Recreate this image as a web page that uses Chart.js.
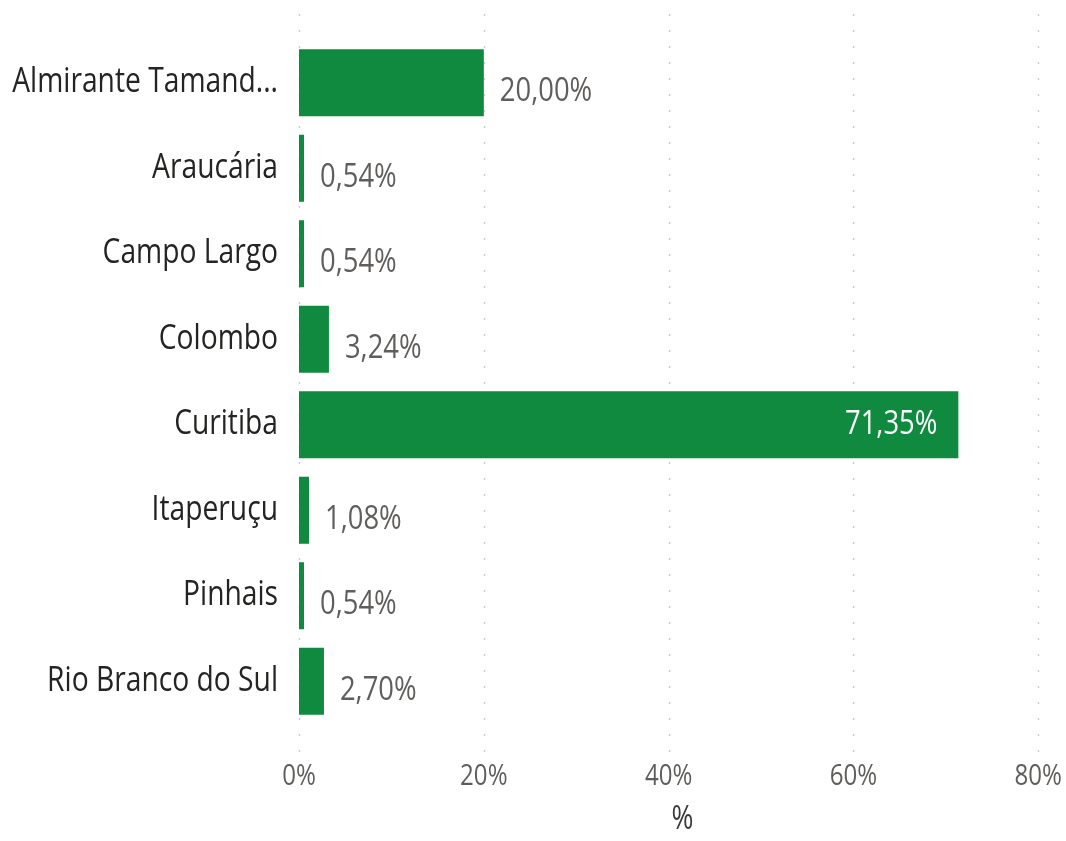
<!DOCTYPE html>
<html>
<head>
<meta charset="utf-8">
<script src="https://cdn.jsdelivr.net/npm/chart.js@4/dist/chart.umd.min.js"></script>
<style>
  html, body { margin: 0; padding: 0; background: #ffffff; }
  #wrap { width: 1066px; height: 841px; }
</style>
</head>
<body>
<div id="wrap"><canvas id="barChart" width="1066" height="841"></canvas></div>
<script>
const municipios = [
    'Almirante Tamand...',
    'Araucária',
    'Campo Largo',
    'Colombo',
    'Curitiba',
    'Itaperuçu',
    'Pinhais',
    'Rio Branco do Sul'
];
const percentuais = [20.00, 0.54, 0.54, 3.24, 71.35, 1.08, 0.54, 2.70];
const xTicks = [0, 20, 40, 60, 80];

const FONT = '"Segoe UI", "Open Sans", "Noto Sans", sans-serif';
const barColor = '#0f8a3e';
// the original text is a narrow rendering, squeeze glyphs horizontally
const SQUEEZE = 0.83;

function formatPct(v) {
    return v.toFixed(2).replace('.', ',') + '%';
}

function drawText(ctx, text, x, y, align) {
    ctx.save();
    ctx.translate(x, y);
    ctx.scale(SQUEEZE, 1);
    ctx.textAlign = align;
    ctx.fillText(text, 0, 0);
    ctx.restore();
}

// dotted vertical gridlines, running a bit past the plot area like the original
const dottedGrid = {
    id: 'dottedGrid',
    beforeDatasetsDraw(chart) {
        const ctx = chart.ctx;
        const xScale = chart.scales.x;
        ctx.save();
        ctx.strokeStyle = '#cfcdcb';
        ctx.lineWidth = 1.5;
        ctx.setLineDash([2, 14]);
        xScale.ticks.forEach(t => {
            const x = Math.round(xScale.getPixelForValue(t.value)) + 0.5;
            ctx.beginPath();
            ctx.moveTo(x, chart.chartArea.top - 26);
            ctx.lineTo(x, chart.chartArea.bottom + 28);
            ctx.stroke();
        });
        ctx.restore();
    }
};

// axis tick labels and axis title, placed from the scales' own positions
const axisLabels = {
    id: 'axisLabels',
    afterDraw(chart) {
        const ctx = chart.ctx;
        const xScale = chart.scales.x;
        const yScale = chart.scales.y;
        ctx.save();
        ctx.textBaseline = 'middle';

        ctx.font = '34px ' + FONT;
        ctx.fillStyle = '#252423';
        municipios.forEach((name, i) => {
            drawText(ctx, name, chart.chartArea.left - 21, yScale.getPixelForTick(i), 'right');
        });

        ctx.font = '29px ' + FONT;
        ctx.fillStyle = '#605e5c';
        xTicks.forEach(v => {
            drawText(ctx, v + '%', xScale.getPixelForValue(v), chart.chartArea.bottom + 53, 'center');
        });

        ctx.font = '32px ' + FONT;
        ctx.fillStyle = '#3b3a39';
        drawText(ctx, '%', (xScale.left + xScale.right) / 2, chart.chartArea.bottom + 96, 'center');
        ctx.restore();
    }
};

// value labels: outside end in gray, inside end in white for the long bar
const valueLabels = {
    id: 'valueLabels',
    afterDatasetsDraw(chart) {
        const ctx = chart.ctx;
        const meta = chart.getDatasetMeta(0);
        ctx.save();
        ctx.font = '33px ' + FONT;
        ctx.textBaseline = 'middle';
        meta.data.forEach((bar, i) => {
            const v = percentuais[i];
            const text = formatPct(v);
            if (v > 50) {
                ctx.fillStyle = '#ffffff';
                drawText(ctx, text, bar.x - 21, bar.y, 'right');
            } else {
                ctx.fillStyle = '#605e5c';
                drawText(ctx, text, bar.x + 16, bar.y + 9, 'left');
            }
        });
        ctx.restore();
    }
};

new Chart(document.getElementById('barChart').getContext('2d'), {
    type: 'bar',
    data: {
        labels: municipios,
        datasets: [{
            data: percentuais,
            backgroundColor: barColor,
            borderWidth: 0,
            categoryPercentage: 1,
            barPercentage: 0.784
        }]
    },
    options: {
        indexAxis: 'y',
        responsive: false,
        animation: false,
        layout: { padding: { top: 40, right: 0, bottom: 0, left: 0 } },
        plugins: {
            legend: { display: false },
            tooltip: { enabled: false }
        },
        scales: {
            x: {
                min: 0,
                max: 83,
                afterBuildTicks(scale) {
                    scale.ticks = xTicks.map(v => ({ value: v }));
                },
                afterFit(scale) {
                    scale.height = 117;
                    scale.paddingLeft = 0;
                    scale.paddingRight = 0;
                },
                grid: { display: false, drawTicks: false },
                border: { display: false },
                ticks: { display: false },
                title: { display: false }
            },
            y: {
                afterFit(scale) {
                    scale.width = 299;
                    scale.paddingTop = 0;
                    scale.paddingBottom = 0;
                },
                grid: { display: false, drawTicks: false },
                border: { display: false },
                ticks: { display: false }
            }
        }
    },
    plugins: [dottedGrid, valueLabels, axisLabels]
});
</script>
</body>
</html>
